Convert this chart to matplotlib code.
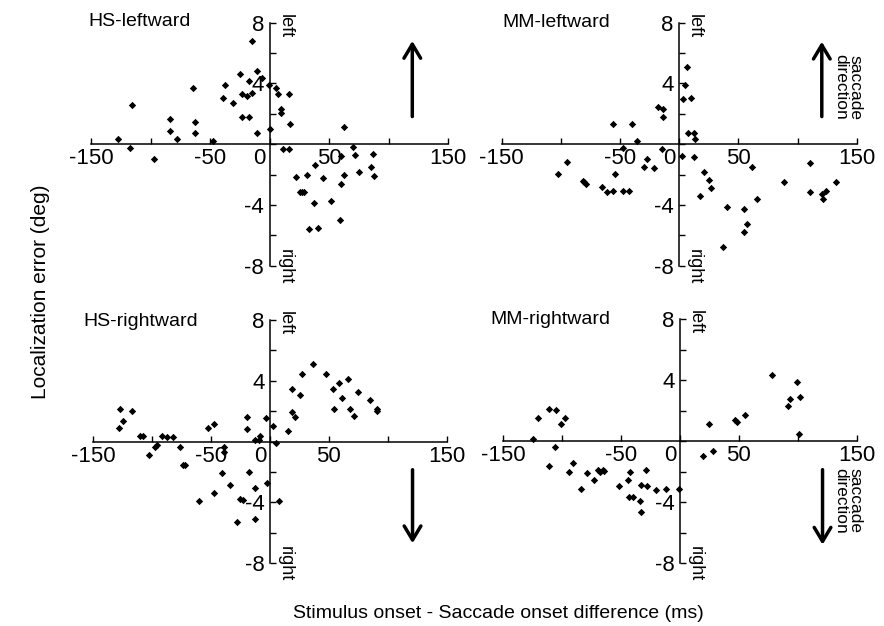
import matplotlib
matplotlib.use('Agg')
import matplotlib.pyplot as plt
from matplotlib.transforms import ScaledTranslation

plt.rcParams['font.family'] = ['Liberation Sans', 'DejaVu Sans']

# ---------------- data (ms, deg) ----------------
hs_left_x = [-127.5, -117, -115.4, -97.2, -83.5, -84, -77.6, -64.4, -63, -62.5,
             -47.6, -39.2, -37.3, -30.3, -25.2, -23, -23, -19, -17.4, -17.1,
             -14.6, -14.8, -10.6, -10.4, -6.2, -0.6, 0.6, 5.6, 7, 9.8,
             9.8, 16.8, 17.6, 11.2, 16.2, 22.4, 25.8, 27.5, 29.4, 31.7,
             38.4, 37.8, 44.8, 33.6, 40.6, 51.3, 59.7, 62.5, 59.7, 59.4,
             62.5, 70, 72, 75.6, 85.4, 86.8, 87.7]
hs_left_y = [0.33, -0.26, 2.61, -0.99, 1.64, 0.88, 0.37, 3.73, 1.43, 0.72,
             0.22, 3.03, 3.9, 2.7, 4.6, 1.82, 3.29, 3.18, 4.17, 1.82,
             3.36, 6.78, 4.82, 0.77, 4.34, 3.9, 1.03, 3.73, 3.33, 2.35,
             2.08, 3.33, 1.32, -0.33, -0.33, -2.15, -3.18, -3.18, -3.14, -2.02,
             -1.36, -3.9, -2.24, -5.59, -5.55, -3.73, -0.77, -2.02, -2.59, -4.98,
             1.14, -0.18, -0.7, -1.86, -1.49, -0.66, -2.08]

mm_left_x = [-102.3, -95.2, -81.7, -80.8, -78.9, -65.6, -60.6, -56.3, -55.8, -54.4,
             -47.3, -47.3, -42.3, -40, -35.8, -29.6, -27.3, -21.7, -18.3, -14.1,
             -14.1, -14.6, 2, 3.4, 4.8, 6.2, 9.9, 7.6, 12.1, 13.2,
             12.1, 21.1, 25.4, 26.8, 17.7, 40.3, 37.2, 54.4, 57.7, 54.4,
             61.4, 65.6, 88.2, 110.7, 110.7, 120.3, 121.1, 123.9, 132.4]
mm_left_y = [-1.97, -1.18, -2.41, -2.46, -2.6, -2.85, -3.18, -3.07, 1.32, -1.97,
             -0.22, -3.07, -3.07, 1.32, 0.18, -1.51, -0.96, -1.58, 2.48, 2.3,
             1.78, -0.31, -0.75, 2.96, 3.9, 5.11, 3.07, 0.72, 0.72, 0.33,
             -0.86, -1.8, -2.35, -2.89, -3.44, -4.14, -6.78, -4.25, -5.24, -5.79,
             -1.47, -3.62, -2.5, -1.25, -3.16, -3.27, -3.62, -3.05, -2.5]

hs_right_x = [-128.5, -127.1, -124.5, -117.5, -110.1, -108.1, -103, -97.6, -96, -92,
              -87.5, -82.6, -76.4, -74.2, -72.2, -60.6, -52.9, -47.8, -47.3, -39.3,
              -39.3, -40.8, -34, -28.3, -25.2, -23.2, -19.5, -19.5, -18.1, -12.5,
              -12.5, -12.7, -9.6, -8.2, -3.4, -2.8, 2.3, 5.1, 7.4, 15.6,
              18.4, 18.7, 21.2, 25.8, 27.2, 36.8, 47.6, 53.8, 54.1, 58.9,
              61.1, 66.5, 68.2, 71, 75, 84.9, 90.9, 90.9]
hs_right_y = [0.88, 2.15, 1.38, 2.02, 0.39, 0.39, -0.88, -0.33, -0.26, 0.39,
              0.29, 0.29, -0.33, -1.58, -1.54, -3.9, 0.88, 1.14, -3.4, -0.33,
              -0.7, -2.08, -2.89, -5.31, -3.77, -3.84, 1.6, 0.83, -2.02, -3.03,
              -5.09, 0.07, 0.11, 0.33, 1.54, -2.7, 1.05, -0.11, -3.9, 0.72,
              3.44, 1.97, 1.6, 3.07, 4.45, 5.09, 4.45, 3.44, 2.13, 3.88,
              2.85, 4.12, 2.13, 1.69, 3.25, 2.74, 2.13, 2.04]

mm_right_x = [-125.1, -120.3, -111, -105.3, -106.1, -111, -101.3, -97.6, -94, -91.1,
              -84.1, -79.3, -72.7, -69.9, -67.9, -65.7, -64.3, -51.5, -44.4, -42.5,
              -43.3, -39.6, -34, -33.1, -33.1, -29.2, -27.7, -20.4, -12.2, -0.6,
              19.8, 24.9, 27.7, 46.7, 48.1, 55.2, 77.8, 91.4, 93.4, 99.1,
              101.9, 101.3]
mm_right_y = [0.17, 1.53, 2.12, 2.08, -0.39, -1.64, 1.16, 1.53, -2.01, -1.42,
              -3.13, -2.08, -2.51, -1.9, -2.01, -1.9, -1.97, -2.95, -2.56, -2.01,
              -3.67, -3.67, -3.89, -4.63, -2.89, -1.86, -2.91, -3.17, -3.13, -3.13,
              -0.94, 1.14, -0.66, 1.42, 1.27, 1.75, 4.33, 2.34, 2.78, 3.89,
              2.89, 0.5]

titles = ['HS-leftward', 'MM-leftward', 'HS-rightward', 'MM-rightward']
x_ticks = [-150, -100, -50, 0, 50, 100, 150]
x_tick_labels = ['-150', '', '-50', '0', '50', '', '150']
y_ticks = [-8, -6, -4, -2, 0, 2, 4, 6, 8]
y_tick_labels = ['-8', '', '-4', '', '', '', '4', '', '8']

# saccade arrows (ms, tail deg, head deg)
arrow_x = [120, 120.5, 121, 121]
arrow_tail = [1.82, 1.82, -1.86, -1.86]
arrow_head = [6.8, 6.75, -6.7, -6.78]
show_label = [False, True, False, True]

panels = [(hs_left_x, hs_left_y), (mm_left_x, mm_left_y),
          (hs_right_x, hs_right_y), (mm_right_x, mm_right_y)]

# ---------------- layout ----------------
W, H = 884, 626
fig = plt.figure(figsize=(W / 100, H / 100), dpi=100)


def px_rect(x0, x1, ytop, ybot):
    return [x0 / W, 1 - ybot / H, (x1 - x0) / W, (ybot - ytop) / H]


rects = [px_rect(91, 448, 22.7, 265.7), px_rect(501.7, 856.7, 22.7, 265.7),
         px_rect(93.3, 446.7, 320, 563), px_rect(503.3, 856.7, 319.3, 563.3)]
title_pos = [(88, 21), (502, 22.5), (83, 321), (490, 319)]

for i, ((xs, ys), rect) in enumerate(zip(panels, rects)):
    ax = fig.add_axes(rect)
    ax.set_xlim(-150, 150)
    ax.set_ylim(-8, 8)
    ax.patch.set_visible(False)
    for s in ['top', 'right']:
        ax.spines[s].set_visible(False)
    ax.spines['left'].set_position(('data', 0))
    ax.spines['bottom'].set_position(('data', 0))
    ax.spines['left'].set_linewidth(1.1)
    ax.spines['bottom'].set_linewidth(1.1)
    ax.set_xticks(x_ticks, x_tick_labels)
    ax.set_yticks(y_ticks, y_tick_labels)
    ax.tick_params(axis='x', direction='in', length=4, width=1, pad=3, labelsize=16)
    ax.tick_params(axis='y', direction='in', length=4, width=1, pad=4, labelsize=16)
    zero_lbl = ax.get_xticklabels()[3]
    zero_lbl.set_transform(zero_lbl.get_transform() +
                           ScaledTranslation(-0.10, 0, fig.dpi_scale_trans))

    ax.scatter(xs, ys, marker='D', s=14, color='black', linewidths=0,
               zorder=3, clip_on=False)

    ax.text(13, 7.8, 'left', rotation=-90, ha='center', va='center', fontsize=13)
    ax.text(13, -8.05, 'right', rotation=-90, ha='center', va='center', fontsize=13)

    ax.annotate('', xy=(arrow_x[i], arrow_head[i]), xytext=(arrow_x[i], arrow_tail[i]),
                arrowprops=dict(arrowstyle='->,head_length=0.5,head_width=0.3',
                                lw=2.5, color='black', mutation_scale=20,
                                shrinkA=0, shrinkB=0))
    if show_label[i]:
        cy = 3.75 if arrow_head[i] > 0 else -3.9
        ax.text(142.5, cy, 'saccade\ndirection', rotation=-90, ha='center',
                va='center', fontsize=12.5, linespacing=1.0, clip_on=False)

    tx, ty = title_pos[i]
    fig.text(tx / W, 1 - ty / H, titles[i], ha='left', va='center', fontsize=14)

fig.text(41 / W, 1 - 292 / H, 'Localization error (deg)', rotation=90,
         ha='center', va='center', fontsize=15)
fig.text(498 / W, 1 - 613 / H, 'Stimulus onset - Saccade onset difference (ms)',
         ha='center', va='center', fontsize=14)

fig.savefig('out.png', dpi=100)
